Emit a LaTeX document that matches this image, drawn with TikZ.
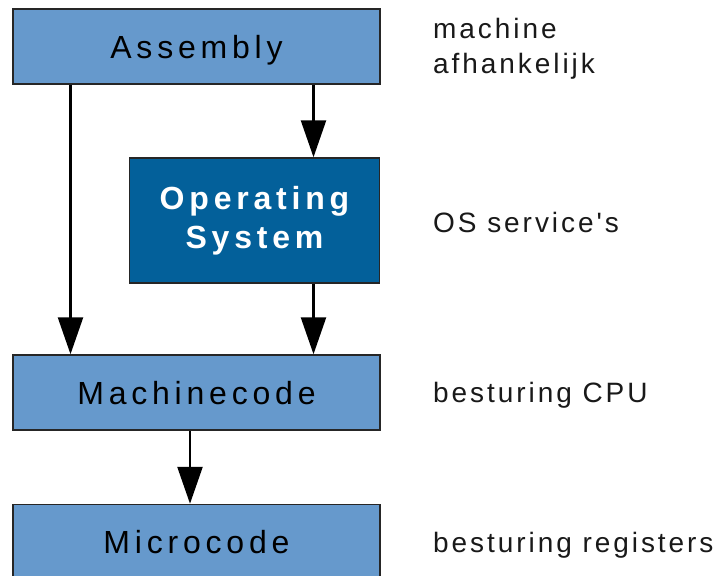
\documentclass[tikz,border=0pt]{standalone}
\usepackage{fontspec}
\setmainfont{Liberation Sans}
\newfontfamily\boxfont[LetterSpace=15]{Liberation Sans}
\newfontfamily\labfont[LetterSpace=10.5]{Liberation Sans}
\usetikzlibrary{arrows.meta}
\definecolor{lightbox}{HTML}{6699CC}
\definecolor{darkbox}{HTML}{03609A}
\tikzset{
  layer/.style={draw=black!85, line width=1.5pt, fill=lightbox, minimum width=367pt, minimum height=75pt, inner sep=0pt, text height=23pt, text depth=0pt, font=\boxfont\fontsize{32}{39}\selectfont, text=black},
  osbox/.style={draw=black!85, line width=1.5pt, fill=darkbox, minimum width=250pt, minimum height=125pt, inner sep=0pt, align=center, font=\boxfont\fontsize{32}{39}\selectfont\bfseries, text=white},
  lab/.style={anchor=base west, inner sep=0pt, font=\labfont\fontsize{28}{35}\selectfont, text=black!90},
  arr/.style={line width=2.5pt, -{Triangle[length=37pt,width=25pt]}}
}
\begin{document}
\begin{tikzpicture}[x=1pt,y=-1pt]
\useasboundingbox (0,0) rectangle (721,576);
\begin{scope}
\clip (0,0) rectangle (721,576);
\node[layer] (asm) at (196.5,46.5) {Assembly};
\node[osbox] (os) at (254.5,220.5) {Operating\\System};
\node[layer] (mc) at (196.5,392.5) {Machinecode};
\node[layer] (uc) at (196.5,542) {Microcode};
\end{scope}
\coordinate (xl) at (70.5,0);
\coordinate (xr) at (313.5,0);
\coordinate (xm) at (190,0);
\draw[arr] (asm.south -| xl) -- (mc.north -| xl);
\draw[arr] (asm.south -| xr) -- (os.north -| xr);
\draw[arr] (os.south -| xr) -- (mc.north -| xr);
\draw[arr] (mc.south -| xm) -- (uc.north -| xm);
\node[lab] (l1) at (433,38) {machine};
\node[lab] (l1b) at (433,73) {afhankelijk};
\node[lab] (l2) at (433,232) {OS service's};
\node[lab] (l3) at (433,402) {besturing CPU};
\node[lab] (l4) at (433,552) {besturing registers};
\end{tikzpicture}
\end{document}
